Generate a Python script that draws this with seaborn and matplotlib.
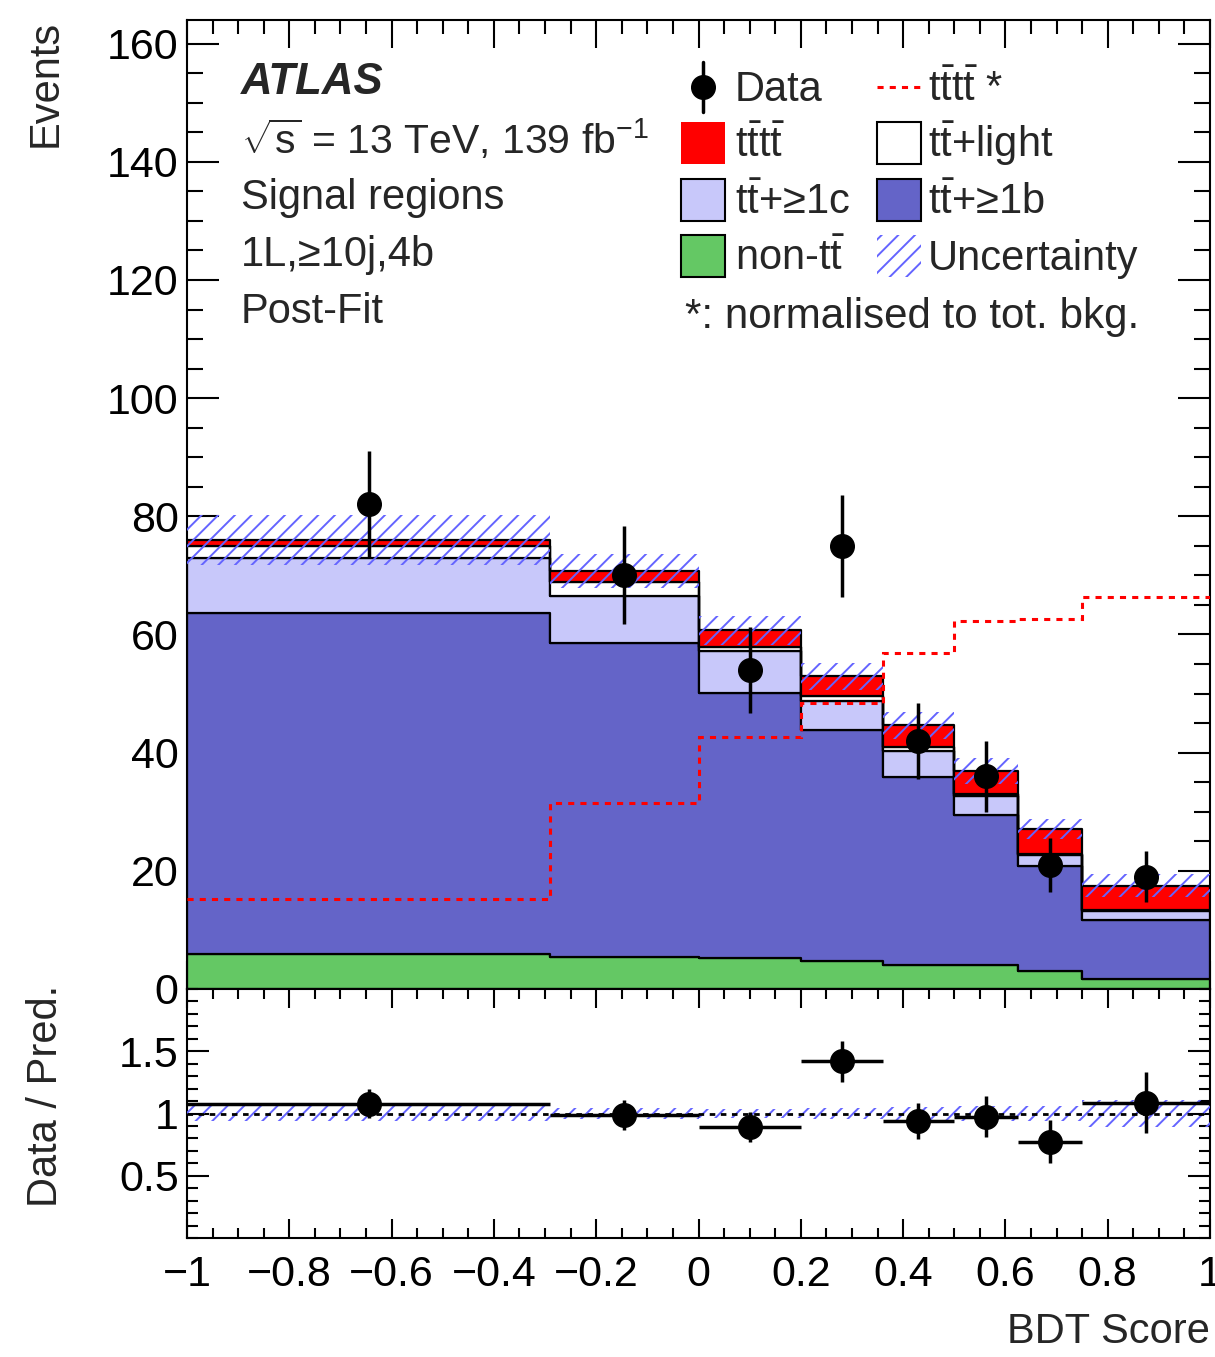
import numpy as np
import pandas as pd
import matplotlib
matplotlib.use("Agg")
import matplotlib.pyplot as plt
import seaborn as sns
from matplotlib.ticker import MultipleLocator, FixedLocator, FuncFormatter
from matplotlib.patches import Rectangle
from matplotlib.lines import Line2D

# ---------------- data ----------------
bin_edges = [-1.0, -0.29, 0.0, 0.2, 0.36, 0.5, 0.625, 0.75, 1.0]
non_tt   = [5.9, 5.4, 5.3, 4.8, 4.1, 4.1, 3.0, 1.7]
tt_1b    = [57.7, 53.2, 44.8, 39.0, 31.8, 25.3, 17.9, 9.9]
tt_1c    = [9.3, 7.9, 7.1, 4.9, 4.3, 3.3, 1.7, 1.6]
tt_light = [2.1, 2.3, 0.7, 0.9, 0.7, 0.3, 0.3, 0.2]
tttt     = [1.0, 2.0, 2.8, 3.3, 3.7, 3.9, 4.2, 4.1]
uncert   = [4.3, 2.9, 2.4, 2.3, 2.3, 2.2, 1.7, 1.9]
tttt_norm = [15.3, 31.5, 42.7, 48.4, 56.8, 62.2, 62.7, 66.3]
data     = [82, 70, 54, 75, 42, 36, 21, 19]
data_err = [9.0, 8.3, 7.3, 8.6, 6.4, 6.0, 4.6, 4.3]

proc_names = ["tttt", "ttlight", "tt1c", "tt1b", "nontt"]
proc_vals = [tttt, tt_light, tt_1c, tt_1b, non_tt]
proc_colors = {"tttt": "#ff0000", "ttlight": "#ffffff", "tt1c": "#c8c8fa",
               "tt1b": "#6464c8", "nontt": "#64c864"}
hatch_col = "#6464ff"

# ---------------- style ----------------
sns.set_style("ticks")
plt.rcParams["font.family"] = ["Liberation Sans", "DejaVu Sans"]
plt.rcParams["mathtext.fontset"] = "custom"
plt.rcParams["mathtext.rm"] = "Liberation Sans"
plt.rcParams["mathtext.it"] = "Liberation Sans:italic"
plt.rcParams["mathtext.bf"] = "Liberation Sans:bold"
plt.rcParams["hatch.linewidth"] = 1.4
plt.rcParams["axes.linewidth"] = 1.5

W, H = 1215, 1357
fig = plt.figure(figsize=(W / 100, H / 100), dpi=100)

def fx(px):
    return px / W

def fy(py):
    return 1 - py / H

L, R = 187, 1210
ax = fig.add_axes([fx(L), fy(989), fx(R) - fx(L), fy(20) - fy(989)])
ax2 = fig.add_axes([fx(L), fy(1238), fx(R) - fx(L), fy(989) - fy(1238)], sharex=ax)

edges = np.array(bin_edges)
centers = 0.5 * (edges[:-1] + edges[1:])
halfw = 0.5 * (edges[1:] - edges[:-1])

rows = []
for name, vals in zip(proc_names, proc_vals):
    for c, v in zip(centers, vals):
        rows.append({"x": c, "w": v, "process": name})
df = pd.DataFrame(rows)

sns.histplot(data=df, x="x", weights="w", hue="process", hue_order=proc_names,
             bins=bin_edges, multiple="stack", element="step", fill=True,
             palette=proc_colors, edgecolor="black", linewidth=1.6, alpha=1,
             legend=False, ax=ax, zorder=2)

total = np.sum(np.array(proc_vals), axis=0)
unc = np.array(uncert)
lo = np.append(total - unc, (total - unc)[-1])
hi = np.append(total + unc, (total + unc)[-1])
ax.fill_between(edges, lo, hi, step="post", facecolor="none", edgecolor=hatch_col,
                linewidth=0, hatch="//", zorder=4)

ax.stairs(tttt_norm, edges, baseline=None, color="red", linewidth=2.2,
          linestyle=(0, (2, 2)), zorder=5)

ax.errorbar(centers, data, yerr=data_err, fmt="o", color="black",
            markersize=17, elinewidth=2.5, capsize=0, zorder=10)

# ratio panel
rat = np.array(data) / total
rat_err = np.array(data_err) / total
rlo = np.append(1 - unc / total, (1 - unc / total)[-1])
rhi = np.append(1 + unc / total, (1 + unc / total)[-1])
ax2.fill_between(edges, rlo, rhi, step="post", facecolor="none", edgecolor=hatch_col,
                 linewidth=0, hatch="//", zorder=3)
ax2.axhline(1, color="black", linewidth=2, linestyle=(0, (2, 2)), zorder=4)
ax2.errorbar(centers, rat, yerr=rat_err, xerr=halfw, fmt="o", color="black",
             markersize=17, elinewidth=2.5, capsize=0, zorder=10)

# axes formatting
for a in (ax, ax2):
    a.set_xlim(-1, 1)
    a.xaxis.set_major_locator(FixedLocator(np.round(np.arange(-1, 1.01, 0.2), 2)))
    a.xaxis.set_minor_locator(MultipleLocator(0.05))
    a.tick_params(which="both", direction="in", top=True, right=True, width=1.5,
                  labelsize=31, colors="black")
    a.set_xlabel("")
    a.set_ylabel("")
    for s in a.spines.values():
        s.set_linewidth(1.5)
        s.set_color("black")

ax.set_ylim(0, 164)
ax.yaxis.set_major_locator(MultipleLocator(20))
ax.yaxis.set_minor_locator(MultipleLocator(5))
ax.tick_params(axis="x", which="major", length=20)
ax.tick_params(axis="x", which="minor", length=10)
ax.tick_params(axis="y", which="major", length=23, pad=6)
ax.tick_params(axis="y", which="minor", length=11.5)
ax.tick_params(axis="x", labelbottom=False)

ax2.set_ylim(0, 2)
ax2.yaxis.set_major_locator(FixedLocator([0.5, 1.0, 1.5]))
ax2.yaxis.set_minor_locator(MultipleLocator(0.1))
ax2.yaxis.set_major_formatter(FuncFormatter(lambda v, p: f"{v:g}"))

def xfmt(v, p):
    s = f"{round(v, 2):g}"
    if s == "-0":
        s = "0"
    return s.replace("-", "\u2212")

ax2.xaxis.set_major_formatter(FuncFormatter(xfmt))
ax2.tick_params(axis="x", which="major", length=14, pad=12)
ax2.tick_params(axis="x", which="minor", length=7)
ax2.tick_params(axis="y", which="major", length=16, pad=6)
ax2.tick_params(axis="y", which="minor", length=8)

# axis labels
fig.text(fx(26), fy(20), "Events", rotation=90, ha="left", va="top", fontsize=30)
fig.text(fx(26), fy(985), "Data / Pred.", rotation=90, ha="left", va="top", fontsize=30)
fig.text(fx(1210), fy(1352), "BDT Score", ha="right", va="bottom", fontsize=30)

# ATLAS block
tx = fx(241)
fig.text(tx, fy(82), "ATLAS", fontsize=31.5, fontweight="bold", style="italic", va="center")
fig.text(tx, fy(140), r"$\sqrt{\mathrm{s}}$ = 13 TeV, 139 fb$^{\mathrm{-1}}$", fontsize=29.5, va="center")
fig.text(tx, fy(198), "Signal regions", fontsize=30, va="center")
fig.text(tx, fy(255), "1L,≥10j,4b", fontsize=30, va="center")
fig.text(tx, fy(312), "Post-Fit", fontsize=30, va="center")

# ---------------- legend (drawn by hand, figure pixel positions) ----------------
tt = r"$\mathrm{t\bar{t}}$"
row_y = [87, 143, 200, 256]
col_box = [681, 877]
col_txt = [735, 928]
box_w, box_h = 44, 42
LFS = 30

def add_box(px, py, face, edge, lw, hatch=None):
    r = Rectangle((fx(px), fy(py + box_h / 2)), fx(box_w), box_h / H,
                  transform=fig.transFigure, facecolor=face, edgecolor=edge,
                  linewidth=lw, hatch=hatch)
    fig.add_artist(r)

def add_label(px, py, s):
    fig.text(fx(px), fy(py + 14), s, fontsize=LFS, va="baseline", ha="left")

# column 1
xc = col_box[0] + box_w / 2
fig.add_artist(Line2D([fx(xc), fx(xc)], [fy(row_y[0] - 25), fy(row_y[0] + 25)],
                      transform=fig.transFigure, color="black", linewidth=2.5))
fig.add_artist(Line2D([fx(xc)], [fy(row_y[0])], transform=fig.transFigure,
                      marker="o", markersize=17, color="black", linestyle="none"))
add_label(col_txt[0], row_y[0], "Data")
add_box(col_box[0], row_y[1], proc_colors["tttt"], "none", 0)
add_label(col_txt[0], row_y[1], r"$\mathrm{t\bar{t}t\bar{t}}$")
add_box(col_box[0], row_y[2], proc_colors["tt1c"], "black", 1.5)
add_label(col_txt[0], row_y[2], tt + "+≥1c")
add_box(col_box[0], row_y[3], proc_colors["nontt"], "black", 1.5)
add_label(col_txt[0], row_y[3], "non-" + tt)

# column 2
fig.add_artist(Line2D([fx(col_box[1]), fx(col_box[1] + box_w)], [fy(row_y[0]), fy(row_y[0])],
                      transform=fig.transFigure, color="red", linewidth=2.2,
                      linestyle=(0, (2, 2))))
add_label(col_txt[1], row_y[0], r"$\mathrm{t\bar{t}t\bar{t}}$ *")
add_box(col_box[1], row_y[1], proc_colors["ttlight"], "black", 1.5)
add_label(col_txt[1], row_y[1], tt + "+light")
add_box(col_box[1], row_y[2], proc_colors["tt1b"], "black", 1.5)
add_label(col_txt[1], row_y[2], tt + "+≥1b")
add_box(col_box[1], row_y[3], "none", hatch_col, 0, hatch="//")
add_label(col_txt[1], row_y[3], "Uncertainty")

fig.text(fx(685), fy(317), "*: normalised to tot. bkg.", fontsize=30.3, va="center")

fig.savefig("out.png", dpi=100)
